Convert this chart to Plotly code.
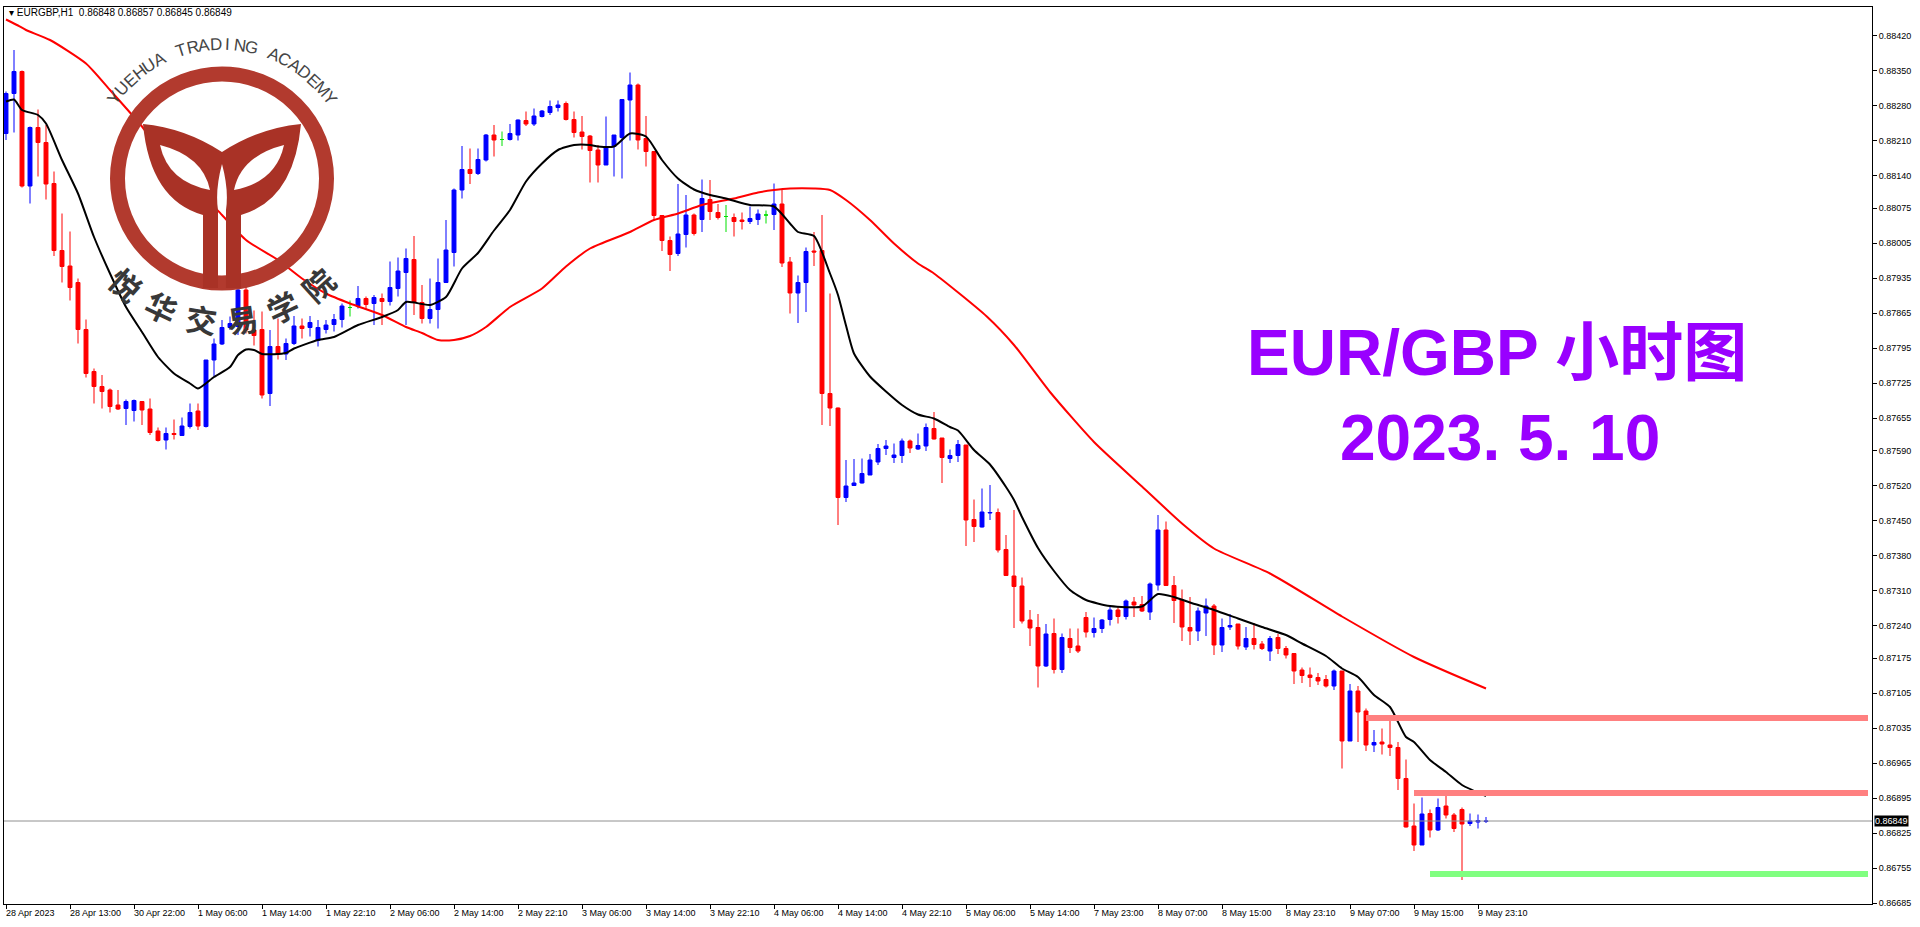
import math
import plotly.graph_objects as go

# ---------------- data ----------------
open_ = [0.88224,0.88304,0.88348,0.88119,0.88236,0.88206,0.88124,0.87990,0.87959,0.87926,
0.87832,0.87748,0.87718,0.87711,0.87681,0.87674,0.87670,0.87688,0.87673,0.87629,
0.87611,0.87624,0.87620,0.87638,0.87669,0.87638,0.87771,0.87803,0.87836,0.87838,
0.87911,0.87831,0.87832,0.87704,0.87798,0.87783,0.87804,0.87839,0.87836,0.87810,
0.87832,0.87842,0.87852,0.87876,0.87879,0.87894,0.87884,0.87894,0.87888,0.87914,
0.87946,0.87972,0.87886,0.87854,0.87872,0.87926,0.87986,0.88111,0.88152,0.88144,
0.88171,0.88221,0.88212,0.88212,0.88221,0.88250,0.88243,0.88258,0.88266,0.88276,
0.88284,0.88252,0.88227,0.88219,0.88191,0.88161,0.88198,0.88216,0.88291,0.88321,
0.88214,0.88188,0.88060,0.88010,0.87984,0.88022,0.88061,0.88052,0.88092,0.88066,
0.88058,0.88056,0.88051,0.88048,0.88052,0.88061,0.88062,0.88083,0.87967,0.87905,
0.87926,0.87989,0.87990,0.87704,0.87675,0.87496,0.87520,0.87525,0.87541,0.87567,
0.87594,0.87576,0.87580,0.87609,0.87593,0.87599,0.87634,0.87615,0.87574,0.87580,
0.87601,0.87452,0.87437,0.87465,0.87466,0.87392,0.87339,0.87319,0.87251,0.87236,
0.87159,0.87224,0.87152,0.87214,0.87199,0.87256,0.87226,0.87234,0.87252,0.87271,
0.87258,0.87287,0.87282,0.87267,0.87321,0.87431,0.87320,0.87291,0.87236,0.87229,
0.87265,0.87279,0.87201,0.87237,0.87243,0.87197,0.87214,0.87203,0.87189,0.87216,
0.87194,0.87184,0.87151,0.87141,0.87136,0.87132,0.87119,0.87149,0.87009,0.87109,
0.87069,0.87001,0.87007,0.87001,0.86996,0.86934,0.86839,0.86801,0.86864,0.86831,
0.86879,0.86861,0.86872,0.86844,0.86847,0.86848]
high = [0.88308,0.88391,0.88350,0.88238,0.88272,0.88241,0.88148,0.88064,0.88028,0.87934,
0.87852,0.87754,0.87741,0.87714,0.87711,0.87692,0.87692,0.87688,0.87694,0.87636,
0.87636,0.87652,0.87656,0.87684,0.87684,0.87771,0.87814,0.87851,0.87858,0.87924,
0.87918,0.87870,0.87868,0.87831,0.87854,0.87814,0.87859,0.87854,0.87859,0.87851,
0.87851,0.87863,0.87884,0.87890,0.87919,0.87898,0.87901,0.87904,0.87968,0.87976,
0.87994,0.88019,0.87921,0.87934,0.87974,0.88051,0.88114,0.88199,0.88194,0.88194,
0.88223,0.88241,0.88228,0.88243,0.88252,0.88268,0.88274,0.88271,0.88290,0.88290,
0.88288,0.88268,0.88259,0.88221,0.88201,0.88258,0.88221,0.88292,0.88346,0.88324,
0.88259,0.88188,0.88060,0.88018,0.88123,0.88101,0.88064,0.88132,0.88131,0.88083,
0.88081,0.88064,0.88066,0.88078,0.88072,0.88070,0.88124,0.88111,0.87977,0.87940,
0.87996,0.88027,0.88061,0.87904,0.87676,0.87571,0.87573,0.87574,0.87583,0.87603,
0.87611,0.87604,0.87614,0.87612,0.87624,0.87644,0.87667,0.87615,0.87592,0.87611,
0.87601,0.87492,0.87514,0.87521,0.87474,0.87421,0.87471,0.87336,0.87271,0.87263,
0.87243,0.87254,0.87224,0.87234,0.87234,0.87267,0.87256,0.87253,0.87278,0.87278,
0.87292,0.87297,0.87299,0.87326,0.87461,0.87448,0.87339,0.87312,0.87297,0.87276,
0.87294,0.87283,0.87254,0.87263,0.87243,0.87237,0.87245,0.87209,0.87219,0.87223,
0.87199,0.87185,0.87156,0.87156,0.87145,0.87141,0.87152,0.87149,0.87123,0.87119,
0.87074,0.87031,0.87034,0.87061,0.87007,0.86972,0.86884,0.86896,0.86872,0.86894,
0.86909,0.86865,0.86876,0.86864,0.86862,0.86857]
low = [0.88211,0.88226,0.88116,0.88084,0.88138,0.88092,0.87979,0.87926,0.87890,0.87804,
0.87736,0.87684,0.87674,0.87666,0.87671,0.87641,0.87648,0.87641,0.87621,0.87608,
0.87592,0.87612,0.87619,0.87634,0.87631,0.87636,0.87738,0.87801,0.87831,0.87821,
0.87824,0.87800,0.87694,0.87679,0.87772,0.87771,0.87801,0.87814,0.87818,0.87798,
0.87824,0.87828,0.87836,0.87858,0.87874,0.87871,0.87841,0.87841,0.87880,0.87898,
0.87841,0.87861,0.87844,0.87844,0.87834,0.87925,0.87958,0.88094,0.88123,0.88141,
0.88168,0.88178,0.88199,0.88210,0.88210,0.88239,0.88239,0.88256,0.88261,0.88268,
0.88250,0.88216,0.88192,0.88126,0.88126,0.88161,0.88138,0.88134,0.88210,0.88192,
0.88158,0.88051,0.87989,0.87949,0.87979,0.87996,0.88020,0.88027,0.88051,0.88052,
0.88027,0.88018,0.88032,0.88043,0.88041,0.88044,0.88031,0.87957,0.87864,0.87845,
0.87867,0.87959,0.87641,0.87639,0.87441,0.87487,0.87519,0.87524,0.87541,0.87561,
0.87581,0.87565,0.87565,0.87585,0.87591,0.87589,0.87612,0.87525,0.87565,0.87567,
0.87399,0.87407,0.87436,0.87451,0.87386,0.87340,0.87235,0.87244,0.87199,0.87116,
0.87157,0.87144,0.87145,0.87185,0.87185,0.87216,0.87216,0.87225,0.87240,0.87244,
0.87252,0.87257,0.87267,0.87251,0.87310,0.87320,0.87245,0.87209,0.87201,0.87209,
0.87219,0.87181,0.87187,0.87231,0.87192,0.87191,0.87192,0.87191,0.87169,0.87183,
0.87174,0.87123,0.87125,0.87117,0.87121,0.87116,0.87111,0.86954,0.87009,0.87007,
0.86989,0.86987,0.86982,0.86979,0.86911,0.86836,0.86789,0.86801,0.86816,0.86829,
0.86854,0.86827,0.86731,0.86839,0.86834,0.86845]
close = [0.88304,0.88348,0.88119,0.88236,0.88206,0.88123,0.87990,0.87958,0.87916,0.87832,
0.87744,0.87718,0.87708,0.87678,0.87673,0.87688,0.87690,0.87671,0.87626,0.87610,
0.87624,0.87622,0.87639,0.87666,0.87639,0.87771,0.87803,0.87836,0.87844,0.87911,
0.87831,0.87820,0.87701,0.87798,0.87783,0.87804,0.87839,0.87834,0.87846,0.87836,
0.87841,0.87852,0.87879,0.87876,0.87894,0.87882,0.87896,0.87888,0.87916,0.87949,
0.87974,0.87886,0.87854,0.87872,0.87926,0.87991,0.88111,0.88152,0.88144,0.88172,
0.88221,0.88211,0.88212,0.88224,0.88251,0.88243,0.88259,0.88269,0.88278,0.88281,
0.88252,0.88226,0.88218,0.88190,0.88161,0.88198,0.88221,0.88292,0.88321,0.88211,
0.88188,0.88060,0.88010,0.87982,0.88023,0.88061,0.88024,0.88094,0.88068,0.88056,
0.88058,0.88048,0.88048,0.88054,0.88063,0.88061,0.88083,0.87965,0.87905,0.87926,
0.87988,0.87987,0.87704,0.87675,0.87496,0.87519,0.87525,0.87544,0.87571,0.87594,
0.87599,0.87581,0.87609,0.87595,0.87600,0.87636,0.87613,0.87576,0.87580,0.87602,
0.87451,0.87438,0.87467,0.87466,0.87391,0.87340,0.87318,0.87249,0.87235,0.87159,
0.87223,0.87152,0.87216,0.87196,0.87189,0.87227,0.87234,0.87251,0.87271,0.87258,
0.87289,0.87281,0.87269,0.87323,0.87431,0.87320,0.87290,0.87237,0.87229,0.87269,
0.87279,0.87201,0.87236,0.87240,0.87199,0.87214,0.87202,0.87194,0.87214,0.87194,
0.87181,0.87149,0.87140,0.87136,0.87129,0.87119,0.87149,0.87009,0.87109,0.87067,
0.87001,0.87006,0.87003,0.86996,0.86934,0.86837,0.86801,0.86863,0.86831,0.86876,
0.86861,0.86834,0.86843,0.86849,0.86850,0.86849]

ma_fast_x = [0,1,2,4,5,7,9,11,13,15,17,19,21,23,24,26,28,29,30,31,32,35,36,39,41,44,47,49,50,52,53,55,57,59,61,63,65,67,69,71,73,74,76,78,80,82,84,86,88,90,93,96,98,99,101,103,104,105,106,108,110,112,114,116,118,119,121,123,125,126,127,129,131,133,135,138,142,144,146,148,151,154,157,160,162,165,167,169,171,173,175,176,178,180,182,185]
ma_fast_y = [0.88288,0.88292,0.88271,0.88261,0.88244,0.88171,0.88104,0.88017,0.87944,0.87877,0.87827,0.87777,0.87744,0.87724,0.87714,0.87737,0.87757,0.87781,0.87792,0.87791,0.87783,0.87785,0.87794,0.87811,0.87817,0.87841,0.87857,0.87871,0.87887,0.87883,0.87881,0.87897,0.87954,0.87985,0.88030,0.88071,0.88128,0.88164,0.88191,0.88201,0.88201,0.88198,0.88198,0.88224,0.88218,0.88171,0.88134,0.88112,0.88101,0.88094,0.88081,0.88078,0.88044,0.88027,0.88019,0.87944,0.87901,0.87840,0.87784,0.87738,0.87708,0.87681,0.87662,0.87654,0.87637,0.87630,0.87591,0.87562,0.87517,0.87491,0.87457,0.87395,0.87349,0.87311,0.87291,0.87279,0.87278,0.87303,0.87297,0.87286,0.87271,0.87254,0.87237,0.87221,0.87204,0.87179,0.87154,0.87137,0.87101,0.87077,0.87017,0.87007,0.86971,0.86947,0.86921,0.86899]

ma_slow_x = [0,1.5,2.5,5.5,10,13,17,20,24,27,30,34,37,40,43,47,50,52,54,56,58,60,63,67,70,73,78,81,84,87,91,94,96,98,101,103,105,108,111,114,116,122.6,126,130.5,136,142,147,151,158,167,176,185]
ma_slow_y = [0.88452,0.88440,0.88431,0.88411,0.88364,0.88311,0.88238,0.88174,0.88111,0.88061,0.88011,0.87971,0.87934,0.87904,0.87884,0.87861,0.87837,0.87825,0.87811,0.87811,0.87819,0.87837,0.87877,0.87914,0.87958,0.87994,0.88027,0.88051,0.88064,0.88081,0.88094,0.88106,0.88111,0.88114,0.88114,0.88111,0.88091,0.88051,0.88004,0.87964,0.87944,0.87858,0.87801,0.87707,0.87607,0.87518,0.87444,0.87394,0.87344,0.87258,0.87177,0.87114]

level_prices = [0.87055, 0.86905, 0.86743]
level_start = [170, 176, 178]
level_colors = ["#FF8080", "#FF8080", "#80FF80"]
last_price = 0.86849

x_tick_pos = list(range(0, 185, 8))
x_tick_text = ["28 Apr 2023","28 Apr 13:00","30 Apr 22:00","1 May 06:00","1 May 14:00","1 May 22:10",
"2 May 06:00","2 May 14:00","2 May 22:10","3 May 06:00","3 May 14:00","3 May 22:10","4 May 06:00",
"4 May 14:00","4 May 22:10","5 May 06:00","5 May 14:00","7 May 23:00","8 May 07:00","8 May 15:00",
"8 May 23:10","9 May 07:00","9 May 15:00","9 May 23:10"]
y_tick_vals = [0.88420,0.88350,0.88280,0.88210,0.88140,0.88075,0.88005,0.87935,0.87865,0.87795,0.87725,
0.87655,0.87590,0.87520,0.87450,0.87380,0.87310,0.87240,0.87175,0.87105,0.87035,0.86965,0.86895,
0.86825,0.86755,0.86685]

XR = [-0.25, 233.25]
YR = [0.86683, 0.88477]
W, H = 1920, 927
ML, MR, MT, MB = 4, 48, 7, 23

def px(x):
    return (x - ML) / (W - ML - MR)

def py(y):
    return 1 - (y - MT) / (H - MT - MB)

fig = go.Figure()

idx = list(range(len(open_)))
main = [i for i in idx if open_[i] != close[i]]
doji = [i for i in idx if open_[i] == close[i]]

fig.add_trace(go.Candlestick(
    x=main, open=[open_[i] for i in main], high=[high[i] for i in main],
    low=[low[i] for i in main], close=[close[i] for i in main],
    increasing=dict(line=dict(color="#0000FF", width=1), fillcolor="#0000FF"),
    decreasing=dict(line=dict(color="#FF0000", width=1), fillcolor="#FF0000"),
    whiskerwidth=0, showlegend=False, hoverinfo="skip"))
fig.add_trace(go.Candlestick(
    x=doji, open=[open_[i] for i in doji], high=[high[i] for i in doji],
    low=[low[i] for i in doji], close=[close[i] for i in doji],
    increasing=dict(line=dict(color="#00E000", width=1)),
    decreasing=dict(line=dict(color="#00E000", width=1)),
    whiskerwidth=0, showlegend=False, hoverinfo="skip"))

fig.add_trace(go.Scatter(x=ma_slow_x, y=ma_slow_y, mode="lines",
                         line=dict(color="#FF0000", width=2, shape="spline", smoothing=0.6),
                         showlegend=False, hoverinfo="skip"))
fig.add_trace(go.Scatter(x=ma_fast_x, y=ma_fast_y, mode="lines",
                         line=dict(color="#000000", width=2, shape="spline", smoothing=0.6),
                         showlegend=False, hoverinfo="skip"))

for p, s, c in zip(level_prices, level_start, level_colors):
    fig.add_trace(go.Scatter(x=[s, XR[1] - 0.5], y=[p, p], mode="lines",
                             line=dict(color=c, width=6), showlegend=False, hoverinfo="skip"))

fig.add_trace(go.Scatter(x=XR, y=[last_price, last_price], mode="lines",
                         line=dict(color="#909090", width=1), showlegend=False, hoverinfo="skip"))

shapes = []
annotations = []

# ---------- logo watermark ----------
cx, cy, R = 222, 178.5, 104.5
shapes.append(dict(type="circle", xref="paper", yref="paper",
                   x0=px(cx - R), x1=px(cx + R), y0=py(cy + R), y1=py(cy - R),
                   line=dict(color="#B23A2E", width=15), layer="above"))

def path(points_cmds):
    out = []
    for cmd, pts in points_cmds:
        out.append(cmd + " ".join(f"{px(a):.5f},{py(b):.5f}" for a, b in pts))
    return " ".join(out) + " Z"

left = [("M", [(143, 124)]), ("Q", [(185, 128), (222, 152)]), ("L", [(222, 164)]),
        ("Q", [(215, 190), (218, 210)]), ("L", [(218, 288)]), ("L", [(203, 288)]),
        ("L", [(203, 215)]), ("Q", [(150, 200), (143, 124)])]
right = [("M", [(301, 124)]), ("Q", [(259, 128), (222, 152)]), ("L", [(222, 164)]),
         ("Q", [(229, 190), (226, 210)]), ("L", [(226, 288)]), ("L", [(241, 288)]),
         ("L", [(241, 215)]), ("Q", [(294, 200), (301, 124)])]
leafL = [("M", [(160, 145)]), ("Q", [(203, 156), (210, 190)]), ("Q", [(168, 182), (160, 145)])]
leafR = [("M", [(284, 145)]), ("Q", [(241, 156), (234, 190)]), ("Q", [(276, 182), (284, 145)])]
for pth, col in [(left, "#A93226"), (right, "#A93226"), (leafL, "white"), (leafR, "white")]:
    shapes.append(dict(type="path", xref="paper", yref="paper", path=path(pth),
                       fillcolor=col, line=dict(width=0), layer="above"))

top_txt = "YUEHUA TRADING ACADEMY"
n = len(top_txt)
for i, ch in enumerate(top_txt):
    phi = -143 + i * (106 / (n - 1))
    r = 134
    x = cx + r * math.cos(math.radians(phi))
    y = cy + r * math.sin(math.radians(phi))
    annotations.append(dict(xref="paper", yref="paper", x=px(x), y=py(y), text=ch,
                            xanchor="center", yanchor="middle",
                            showarrow=False, textangle=phi + 90,
                            font=dict(family="Liberation Sans", size=17, color="#454545")))
bot_txt = "悦华交易学院"
m = len(bot_txt)
for i, ch in enumerate(bot_txt):
    phi = 132 - i * (84 / (m - 1))
    r = 142
    x = cx + r * math.cos(math.radians(phi))
    y = cy + r * math.sin(math.radians(phi))
    annotations.append(dict(xref="paper", yref="paper", x=px(x), y=py(y), text="<b>" + ch + "</b>",
                            xanchor="center", yanchor="middle",
                            showarrow=False, textangle=phi - 90,
                            font=dict(family="Noto Sans CJK SC", size=31, color="#383838")))

# ---------- texts ----------
annotations.append(dict(xref="paper", yref="paper", x=px(1497), y=py(353),
                        xanchor="center", yanchor="middle",
                        text="<b>EUR/GBP 小时图</b>", showarrow=False,
                        font=dict(family="Liberation Sans, Noto Sans CJK SC", size=64, color="#9900FF")))
annotations.append(dict(xref="paper", yref="paper", x=px(1500), y=py(438),
                        xanchor="center", yanchor="middle",
                        text="<b>2023. 5. 10</b>", showarrow=False,
                        font=dict(family="Liberation Sans", size=64, color="#9900FF")))
annotations.append(dict(xref="paper", yref="paper", x=px(7), y=py(13), xanchor="left", yanchor="middle",
                        text="▾ EURGBP,H1  0.86848 0.86857 0.86845 0.86849", showarrow=False,
                        font=dict(family="Liberation Sans", size=10, color="#000000")))
annotations.append(dict(xref="paper", yref="y", x=1, y=last_price, xanchor="left", yanchor="middle", xshift=2,
                        text="0.86849", showarrow=False, bgcolor="#000000", borderpad=0,
                        font=dict(family="Liberation Sans", size=9, color="#FFFFFF")))
for xv, t in zip(x_tick_pos, x_tick_text):
    annotations.append(dict(xref="x", yref="paper", x=xv, y=0, xanchor="left", yanchor="top",
                            yshift=-2, xshift=-2, text=t, showarrow=False,
                            font=dict(family="Liberation Sans", size=9, color="#000000")))

fig.update_layout(
    width=W, height=H, margin=dict(l=ML, r=MR, t=MT, b=MB),
    paper_bgcolor="white", plot_bgcolor="white",
    xaxis=dict(range=XR, rangeslider=dict(visible=False), showgrid=False, zeroline=False,
               showline=True, linecolor="#000000", linewidth=1, mirror=True,
               tickvals=x_tick_pos, ticktext=[""] * len(x_tick_pos), ticks="outside",
               ticklen=4, tickcolor="#000000"),
    yaxis=dict(range=YR, side="right", showgrid=False, zeroline=False,
               showline=True, linecolor="#000000", linewidth=1, mirror=True,
               tickvals=y_tick_vals, ticktext=[f"{v:.5f}" for v in y_tick_vals],
               ticks="outside", ticklen=4, tickcolor="#000000",
               tickfont=dict(family="Liberation Sans", size=9, color="#000000")),
    shapes=shapes, annotations=annotations, showlegend=False,
)

fig.write_html("out.html", config={"displayModeBar": False},
               post_script="document.body.style.margin='0';")
